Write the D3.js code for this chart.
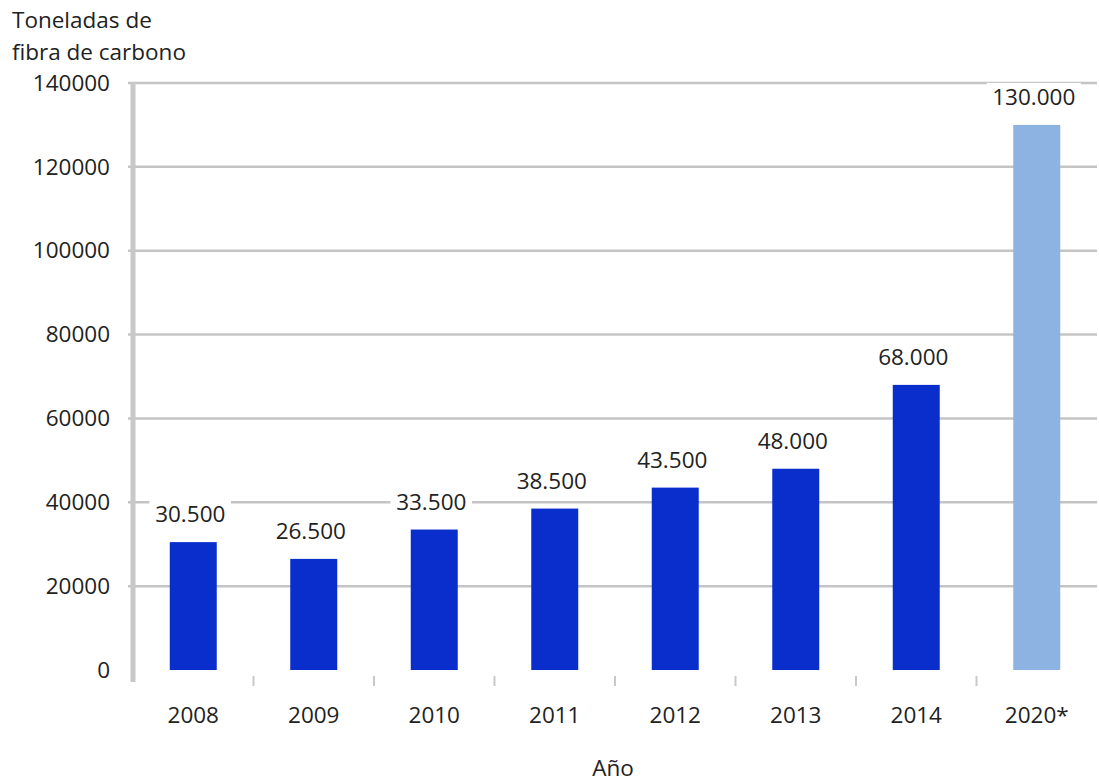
<!DOCTYPE html>
<html><head><meta charset="utf-8">
<script src="https://cdn.jsdelivr.net/npm/d3@7"></script>
<style>body{margin:0;background:#fff}text{font-family:"Open Sans",sans-serif;fill:#222}</style>
</head><body><svg id="c" width="1099" height="782"></svg>
<script>
const years = ["2008","2009","2010","2011","2012","2013","2014","2020*"];
const values = [30500,26500,33500,38500,43500,48000,68000,130000];
const labels = ["30.500","26.500","33.500","38.500","43.500","48.000","68.000","130.000"];
const yTicks = [0,20000,40000,60000,80000,100000,120000,140000];
const colors = ["#0a2ecb","#0a2ecb","#0a2ecb","#0a2ecb","#0a2ecb","#0a2ecb","#0a2ecb","#8db3e2"];

const FS = 22.5;
const svg = d3.select("#c");
const x = d3.scaleBand().domain(years).range([133,1097]).paddingInner(0.61).paddingOuter(0.305);
const y = d3.scaleLinear().domain([0,140000]).range([670,83]);

// gridlines
svg.append("g").selectAll("line").data(yTicks.filter(d=>d>0)).join("line")
  .attr("x1",128).attr("x2",1097).attr("y1",d=>y(d)).attr("y2",d=>y(d))
  .attr("stroke","#c4c4c4").attr("stroke-width",2.5);

// y axis
const ya = svg.append("g").attr("transform","translate(133,0)")
  .call(d3.axisLeft(y).tickValues(yTicks).tickSize(0).tickPadding(23).tickFormat(d3.format("d")));
ya.select(".domain").remove();
ya.selectAll("text").attr("font-size",FS).style("font-family","'Open Sans',sans-serif").attr("fill","#222");
svg.append("line").attr("x1",133).attr("x2",133).attr("y1",82).attr("y2",682)
  .attr("stroke","#c8c8c8").attr("stroke-width",5);

// x ticks between categories
const bounds = years.slice(1).map(d=>x(d)-x.step()*x.paddingInner()/2);
svg.append("g").selectAll("line").data(bounds).join("line")
  .attr("x1",d=>d).attr("x2",d=>d).attr("y1",676).attr("y2",686)
  .attr("stroke","#c8c8c8").attr("stroke-width",2);

// bars
svg.append("g").selectAll("rect").data(values).join("rect")
  .attr("x",(d,i)=>x(years[i])).attr("width",x.bandwidth())
  .attr("y",d=>y(d)).attr("height",d=>y(0)-y(d))
  .attr("fill",(d,i)=>colors[i]);

// value labels with white background
const lg = svg.append("g").selectAll("g").data(values).join("g")
  .attr("transform",(d,i)=>`translate(${x(years[i])+x.bandwidth()/2-3},${y(d)-20})`);
lg.append("rect").attr("x",(d,i)=>-labels[i].length*6.3-3).attr("y",-22)
  .attr("width",(d,i)=>labels[i].length*12.6+6).attr("height",29).attr("fill","#fff");
lg.append("text").attr("text-anchor","middle").attr("font-size",FS).text((d,i)=>labels[i]);

// x labels
const xa = svg.append("g").attr("transform","translate(0,670)")
  .call(d3.axisBottom(x).tickSize(0).tickPadding(0));
xa.select(".domain").remove();
xa.selectAll("text").attr("font-size",FS).attr("dy",null).attr("y",53)
  .style("font-family","'Open Sans',sans-serif").attr("fill","#222");

// titles
svg.append("text").attr("x",12).attr("y",28).attr("font-size",FS).text("Toneladas de");
svg.append("text").attr("x",12).attr("y",60).attr("font-size",FS).text("fibra de carbono");
svg.append("text").attr("x",613).attr("y",776).attr("text-anchor","middle").attr("font-size",FS).text("Año");
</script></body></html>
